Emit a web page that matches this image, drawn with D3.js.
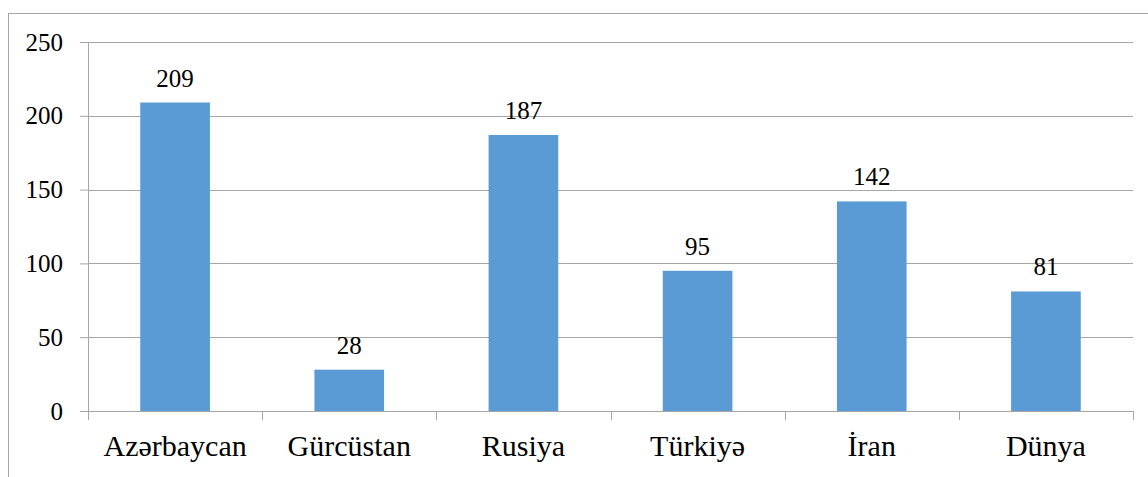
<!DOCTYPE html>
<html>
<head>
<meta charset="utf-8">
<script src="https://cdn.jsdelivr.net/npm/d3@7"></script>
<style>
  body { margin: 0; background: #fff; }
</style>
</head>
<body>
<div id="chartArea"></div>
<script>
// data
const categories = ["Azərbaycan", "Gürcüstan", "Rusiya", "Türkiyə", "İran", "Dünya"];
const values = [209, 28, 187, 95, 142, 81];
const yTicks = [0, 50, 100, 150, 200, 250];

const chart = {};
chart.width = 1148;
chart.height = 477;
chart.margin = { top: 42, right: 15, bottom: 66, left: 88 };
chart.innerW = chart.width - chart.margin.left - chart.margin.right;
chart.innerH = chart.height - chart.margin.top - chart.margin.bottom;

chart.svg = d3.select("#chartArea").append("svg")
  .attr("width", chart.width)
  .attr("height", chart.height)
  .style("font-family", "'Liberation Serif'");

// outer frame (only top and left visible in the picture)
chart.svg.append("rect")
  .attr("x", 8.5).attr("y", 13.5)
  .attr("width", chart.width + 20).attr("height", chart.height + 20)
  .attr("fill", "none").attr("stroke", "#a6a6a6").attr("stroke-width", 1);

const g = chart.svg.append("g")
  .attr("transform", "translate(" + chart.margin.left + "," + chart.margin.top + ")");

const x = d3.scaleBand(categories, [0, chart.innerW]).paddingInner(0.6).paddingOuter(0.3);
const xBand = d3.scaleBand(categories, [0, chart.innerW]);
const y = d3.scaleLinear([0, 250], [chart.innerH, 0]);

// gridlines
g.append("g")
  .selectAll("line")
  .data(yTicks.filter(d => d > 0))
  .join("line")
  .attr("x1", 0).attr("x2", chart.innerW)
  .attr("y1", d => Math.round(y(d)) + 0.5).attr("y2", d => Math.round(y(d)) + 0.5)
  .attr("stroke", "#a6a6a6");

// bars
g.append("g")
  .selectAll("rect")
  .data(values)
  .join("rect")
  .attr("x", (d, i) => x(categories[i]))
  .attr("width", x.bandwidth())
  .attr("y", d => y(d))
  .attr("height", d => y(0) - y(d))
  .attr("fill", "#5b9bd5");

// value labels
g.append("g")
  .selectAll("text")
  .data(values)
  .join("text")
  .attr("x", (d, i) => x(categories[i]) + x.bandwidth() / 2)
  .attr("y", d => y(d) - 16)
  .attr("text-anchor", "middle")
  .style("font-size", "25px")
  .text(d => d);

// y axis
const yAxis = g.append("g")
  .call(d3.axisLeft(y).tickValues(yTicks).tickSize(8).tickPadding(17))
  .attr("font-family", null).attr("font-size", null);
yAxis.select(".domain").attr("stroke", "#a6a6a6").attr("d", "M0.5," + chart.innerH + "V0");
yAxis.selectAll(".tick line").attr("stroke", "#a6a6a6");
yAxis.selectAll("text").style("font-size", "25px");

// x axis
const xAxis = g.append("g")
  .attr("transform", "translate(0," + chart.innerH + ")")
  .call(d3.axisBottom(xBand).tickSize(0).tickPadding(24))
  .attr("font-family", null).attr("font-size", null);
xAxis.select(".domain").attr("stroke", "#a6a6a6").attr("d", "M0,0.5H" + chart.innerW);
xAxis.selectAll("text").style("font-size", "30px").attr("dy", "0.71em");

// category separators below the axis
g.append("g")
  .selectAll("line")
  .data(d3.range(categories.length + 1))
  .join("line")
  .attr("x1", i => Math.round(i * xBand.step()) + 0.5)
  .attr("x2", i => Math.round(i * xBand.step()) + 0.5)
  .attr("y1", chart.innerH).attr("y2", chart.innerH + 9)
  .attr("stroke", "#a6a6a6");
</script>
</body>
</html>
